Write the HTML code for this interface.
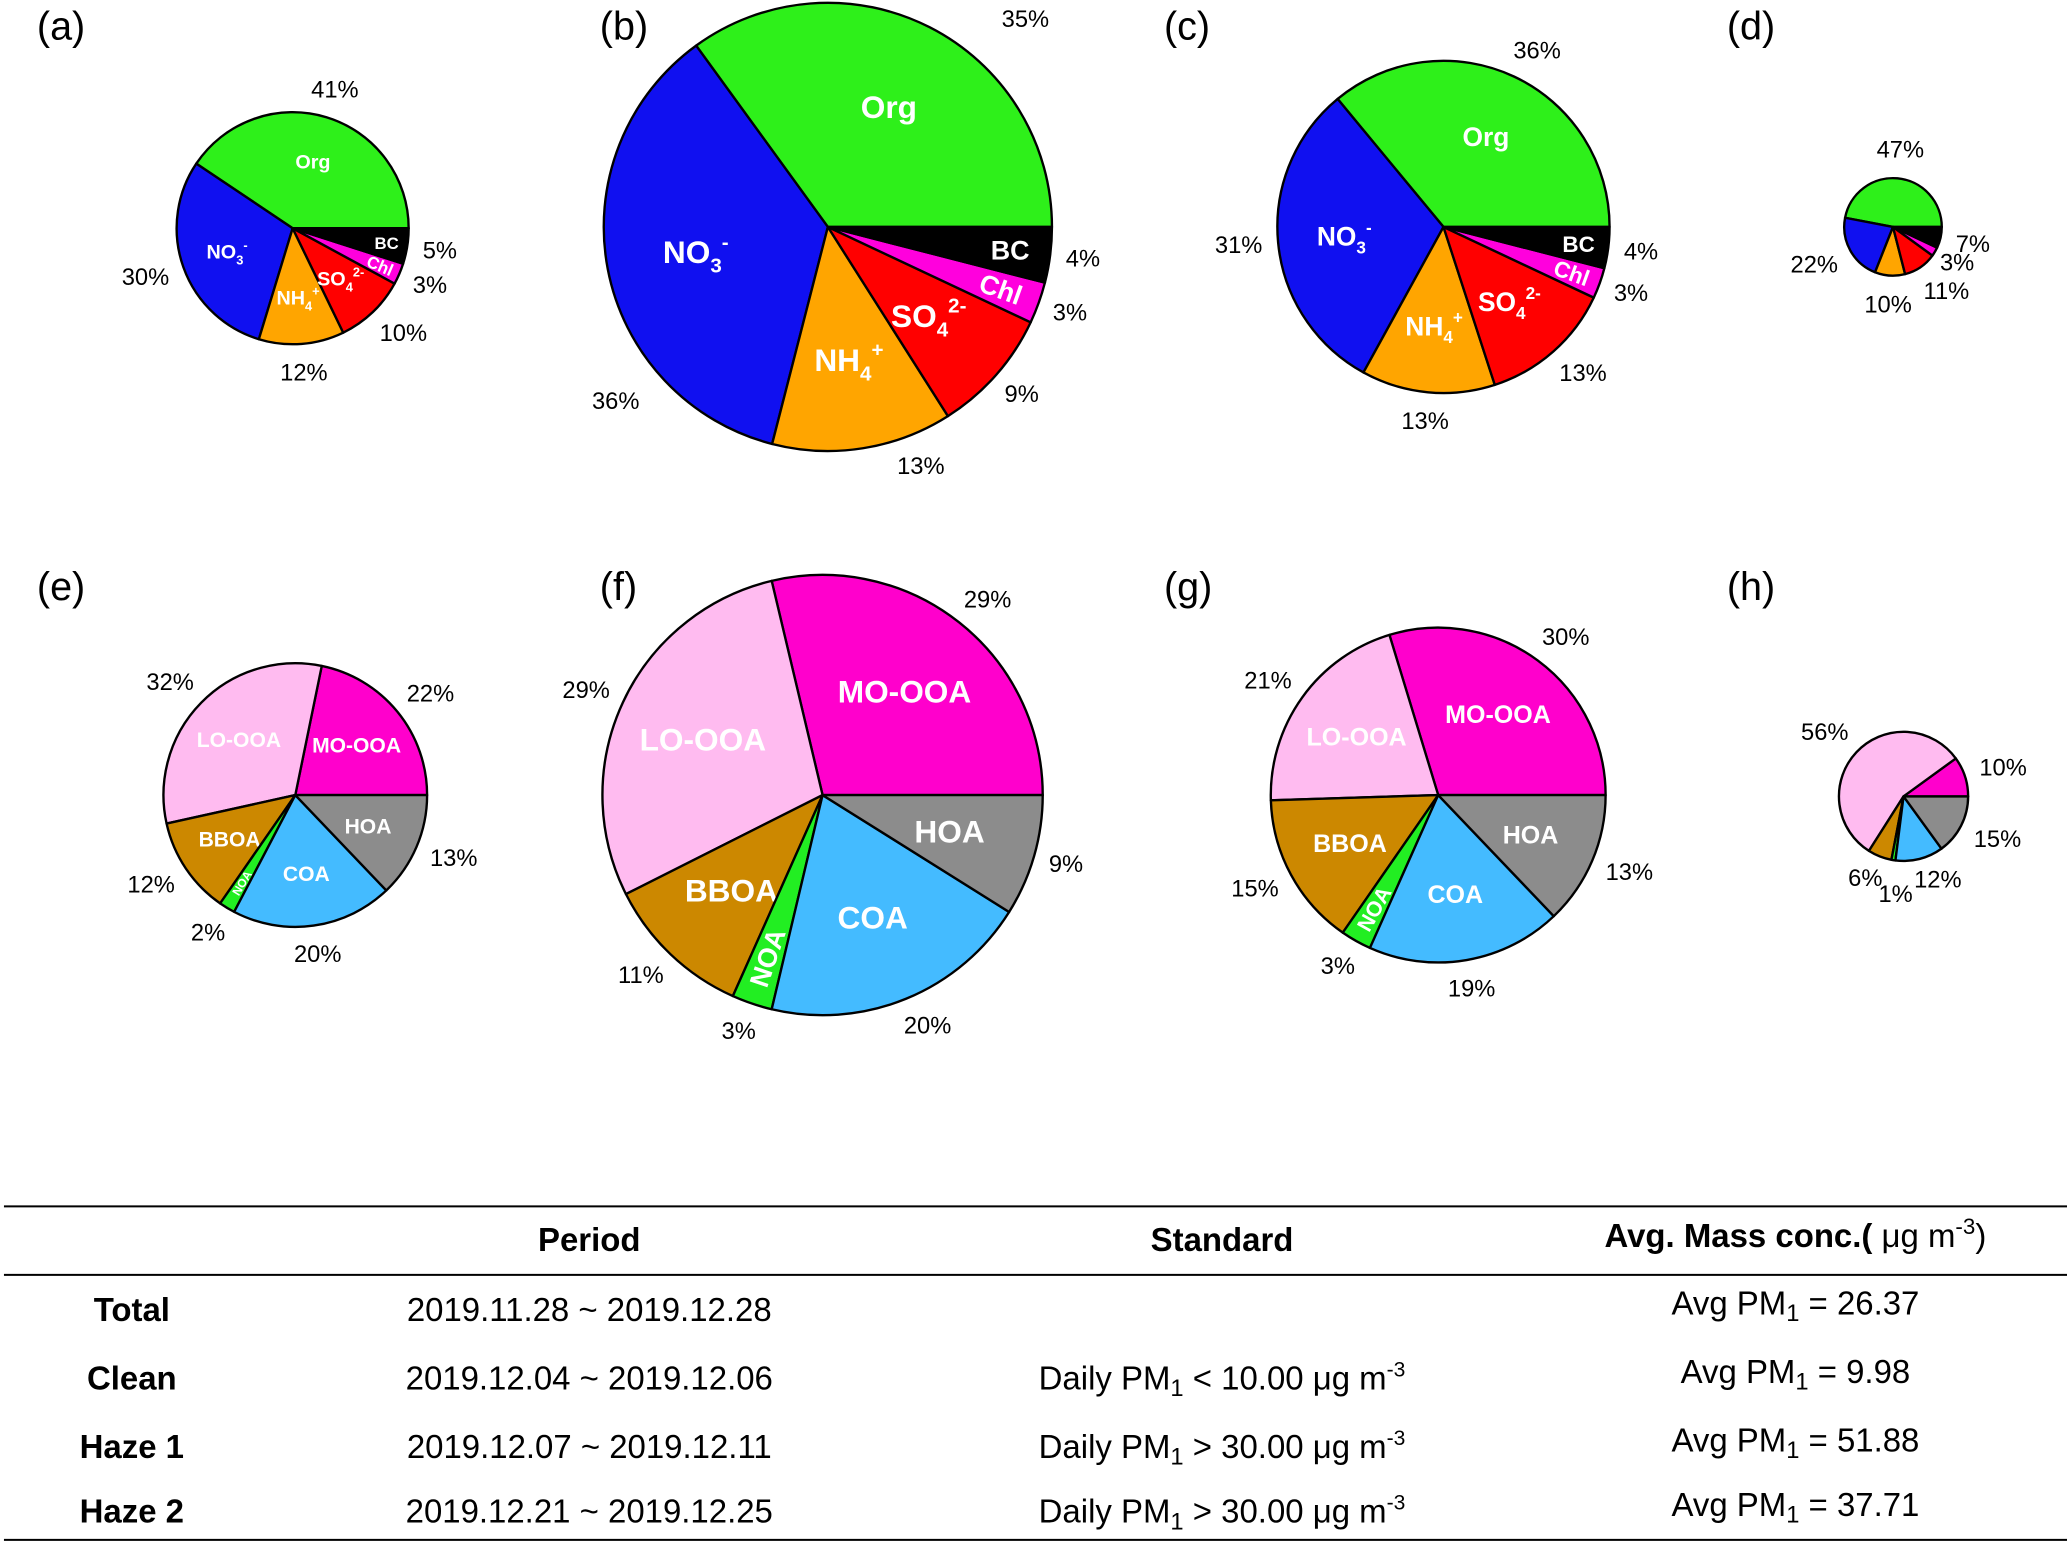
<!DOCTYPE html>
<html><head><meta charset="utf-8"><style>
html,body{margin:0;padding:0;background:#fff}
svg{display:block}
text{font-family:"Liberation Sans",sans-serif}
</style></head><body>
<svg id="fig" width="2067" height="1544" viewBox="0 0 1568 1171" xmlns="http://www.w3.org/2000/svg">
<g id="pies"></g>
<g id="table" font-size="25" fill="#000">
<line x1="3" y1="915" x2="1568" y2="915" stroke="#000" stroke-width="1.5"/>
<line x1="3" y1="967" x2="1568" y2="967" stroke="#000" stroke-width="1.5"/>
<line x1="3" y1="1168" x2="1568" y2="1168" stroke="#000" stroke-width="1.5"/>
<text x="447" y="949" text-anchor="middle" font-weight="bold">Period</text>
<text x="927" y="949" text-anchor="middle" font-weight="bold">Standard</text>
<text x="1362" y="946" text-anchor="middle"><tspan font-weight="bold">Avg. Mass conc.(</tspan> μg m<tspan font-size="17" dy="-10">-3</tspan><tspan dy="10">)</tspan></text>
</g>
<script>
const panelIds=['a','b','c','d','e','f','g','h'];
const inorgNames=['Org','NO3','NH4','SO4','Chl','BC'];
const inorgA=[41,30,12,10,3,5];
const inorgB=[35,36,13,9,3,4];
const inorgC=[36,31,13,13,3,4];
const inorgD=[47,22,10,11,3,7];
const oaNames=['MO-OOA','LO-OOA','BBOA','NOA','COA','HOA'];
const oaE=[22,32,12,2,20,13];
const oaF=[29,29,11,3,20,9];
const oaG=[30,21,15,3,19,13];
const oaH=[10,56,6,1,12,15];
const tPeriods=['Total','Clean','Haze 1','Haze 2'];
const tDates=['2019.11.28 ~ 2019.12.28','2019.12.04 ~ 2019.12.06','2019.12.07 ~ 2019.12.11','2019.12.21 ~ 2019.12.25'];
const tStd=['','< 10.00','> 30.00','> 30.00'];
const tAvg=['26.37','9.98','51.88','37.71'];

const NS='http://www.w3.org/2000/svg';
const colors={'Org':'#2ef01a','NO3':'#1010f0','NH4':'#ffa500','SO4':'#ff0000','Chl':'#ff00dd','BC':'#000000',
'MO-OOA':'#ff00cc','LO-OOA':'#ffbbf0','BBOA':'#cc8800','NOA':'#22ee22','COA':'#44bbff','HOA':'#8c8c8c'};
const layout=[
 {cx:222,cy:173,r:88,lx:28,ly:30,fs:15,ps:18},
 {cx:628,cy:172,r:170,lx:455,ly:30,fs:24,ps:18},
 {cx:1095,cy:172,r:126,lx:883,ly:30,fs:20,ps:18},
 {cx:1436,cy:172,r:37,lx:1310,ly:30,fs:0,ps:18},
 {cx:224,cy:603,r:100,lx:28,ly:455,fs:16,ps:18},
 {cx:624,cy:603,r:167,lx:455,ly:455,fs:24,ps:18},
 {cx:1091,cy:603,r:127,lx:883,ly:455,fs:19,ps:18},
 {cx:1444,cy:604,r:49,lx:1310,ly:455,fs:0,ps:18}];
// label angle / radius adjustments (degrees, px) for a few crowded labels
const labelAdj={'b-0':[-15,20],'b-1':[30,10],'b-2':[10,0],'d-4':[0,-6]};
// offsets from pie centre for tiny crowded labels in (h)
const labelOffset={'h-2':[-29,62],'h-3':[-6,74],'h-4':[26,63]};
const dataSets=[inorgA,inorgB,inorgC,inorgD,oaE,oaF,oaG,oaH];
const root=document.getElementById('pies');
function mk(tag,attrs,parent){const e=document.createElementNS(NS,tag);for(const k in attrs)e.setAttribute(k,attrs[k]);parent.appendChild(e);return e;}
function ts(parent,txt,attrs){const s=document.createElementNS(NS,'tspan');for(const k in (attrs||{}))s.setAttribute(k,attrs[k]);s.textContent=txt;parent.appendChild(s);return s;}
function pt(cx,cy,r,deg){const a=deg*Math.PI/180;return [cx+r*Math.cos(a),cy-r*Math.sin(a)];}
function labelInner(t,name,fs){
  if(name==='NO3'||name==='NH4'||name==='SO4'){
    const base={NO3:'NO',NH4:'NH',SO4:'SO'}[name];const sub={NO3:'3',NH4:'4',SO4:'4'}[name];const sup={NO3:'-',NH4:'+',SO4:'2-'}[name];
    ts(t,base);ts(t,sub,{'font-size':fs*0.65,dy:fs*0.3});ts(t,sup,{'font-size':fs*0.65,dy:-fs*0.75});
  } else t.textContent=name;
}
dataSets.forEach((vals,pi)=>{
  const L=layout[pi];const names=pi<4?inorgNames:oaNames;
  const g=mk('g',{},root);
  
  
  const pl=mk('text',{x:L.lx,y:L.ly,'font-size':30},g);pl.textContent='('+panelIds[pi]+')';
  
  
  const tot=vals.reduce((a,b)=>a+b,0);let ang=0;
  vals.forEach((v,i)=>{
    const sw=v/tot*360;const a0=ang,a1=ang+sw;ang=a1;
    const p0=pt(L.cx,L.cy,L.r,a0),p1=pt(L.cx,L.cy,L.r,a1);
    const large=sw>180?1:0;
    const path=mk('path',{d:`M${L.cx},${L.cy}L${p0[0]},${p0[1]}A${L.r},${L.r} 0 ${large} 0 ${p1[0]},${p1[1]}Z`,fill:colors[names[i]],stroke:'#000','stroke-width':1.8,'stroke-linejoin':'round'},g);
    
    
    const mid=(a0+a1)/2;
    const key=panelIds[pi]+'-'+i;
    let pt_;
    if(labelOffset[key]){
      const o=labelOffset[key];
      pt_=mk('text',{x:L.cx+o[0],y:L.cy+o[1]+6,'font-size':L.ps,'text-anchor':'middle'},g);
    } else {
      const adj=labelAdj[key]||[0,0];
      const la=mid+adj[0];
      const q=pt(L.cx,L.cy,L.r+22+adj[1],la);const c=Math.cos(la*Math.PI/180);
      pt_=mk('text',{x:q[0],y:q[1]+6,'font-size':L.ps,'text-anchor':c>0.3?'start':(c<-0.3?'end':'middle')},g);
      if(c>0.3)pt_.setAttribute('x',q[0]-10);if(c<-0.3)pt_.setAttribute('x',q[0]+10);
    }
    pt_.textContent=v+'%';
    
    
    if(L.fs>0){
      const small=v<6;const rr=small?(names[i]==='NOA'?0.78:0.82):0.6;
      const ip=pt(L.cx,L.cy,L.r*rr,mid);
      const fsz=names[i]==='NOA'?(pi===4?9:L.fs*0.85):(small?L.fs*0.85:L.fs);
      const t=mk('text',{x:ip[0],y:ip[1]+fsz*0.35,'font-size':fsz,'font-weight':'bold',fill:'#fff','text-anchor':'middle'},g);
      if(names[i]==='NOA')t.setAttribute('transform',`rotate(${180-mid} ${ip[0]} ${ip[1]})`);
      if(names[i]==='Chl')t.setAttribute('transform',`rotate(${-mid} ${ip[0]} ${ip[1]})`);
      labelInner(t,names[i],fsz);
      
      
    }
  });
});
const tb=document.getElementById('table');
const rowY=[1002,1054,1106,1155];
tPeriods.forEach((p,i)=>{
  const a=mk('text',{x:100,y:rowY[i],'text-anchor':'middle','font-weight':'bold'},tb);a.textContent=p;
  
  
  const b=mk('text',{x:447,y:rowY[i],'text-anchor':'middle'},tb);b.textContent=tDates[i];
  
  
  if(tStd[i]){
    const s=mk('text',{x:927,y:rowY[i],'text-anchor':'middle'},tb);
    ts(s,'Daily PM');ts(s,'1',{'font-size':18,dy:5});ts(s,' '+tStd[i]+' μg m',{dy:-5});ts(s,'-3',{'font-size':16,dy:-10});
    
    
  }
  const v=mk('text',{x:1362,y:rowY[i]-5,'text-anchor':'middle'},tb);
  ts(v,'Avg PM');ts(v,'1',{'font-size':18,dy:5});ts(v,' = '+tAvg[i],{dy:-5});
  
  
});
</script>
</svg>
</body></html>
